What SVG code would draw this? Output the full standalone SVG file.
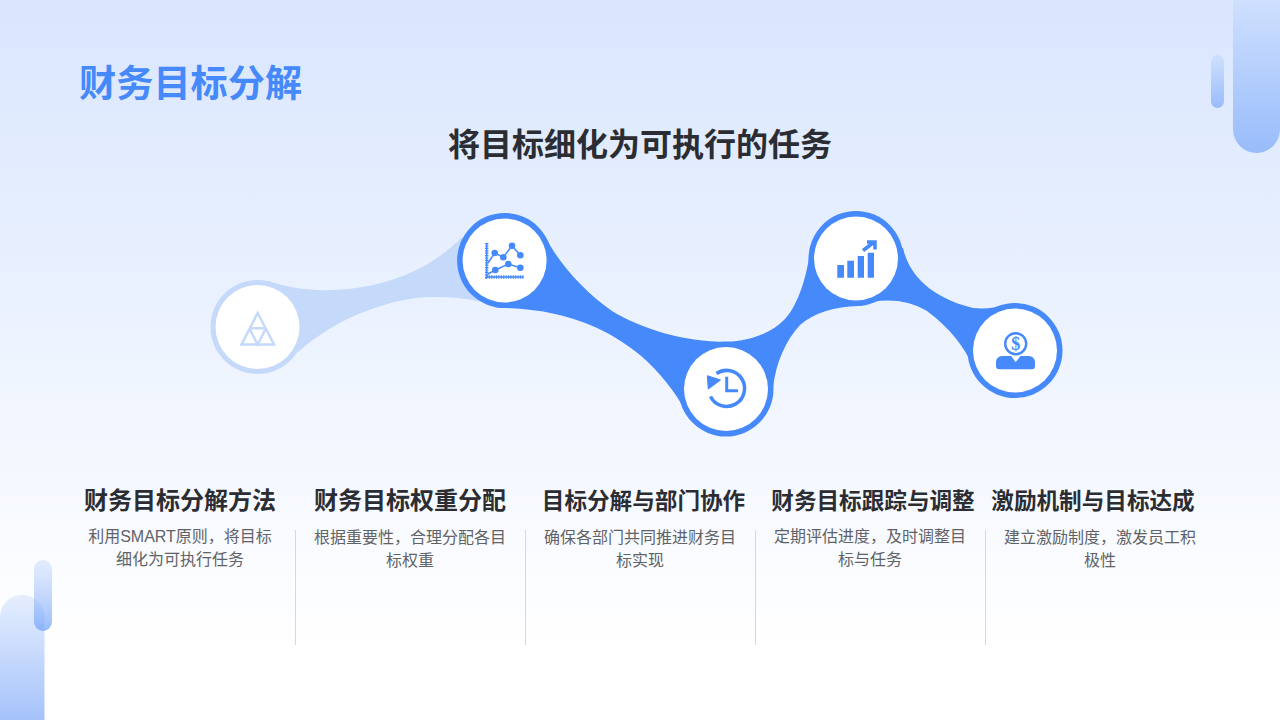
<svg xmlns="http://www.w3.org/2000/svg" width="1280" height="720" viewBox="0 0 1280 720">
<style>
text{font-family:"Liberation Sans","Noto Sans CJK SC",sans-serif}
.h{font-size:24px;font-weight:700;fill:#2b2d33;text-anchor:middle}
.n{font-size:22.600px}
.b{font-size:16px;fill:#5f6368;text-anchor:middle}
.d{stroke:#d5d8de;stroke-width:1}
.w{fill:#fff}
.i{fill:#4589fb}
.is{fill:none;stroke:#4589fb}
</style>
<defs>
<linearGradient id="bg" x1="0" y1="0" x2="0" y2="1"><stop offset="0" stop-color="#d9e6fe"/><stop offset=".9" stop-color="#fff"/></linearGradient>
<linearGradient id="g1" x1="0" y1="0" x2="0" y2="1"><stop offset="0" stop-color="#cfe0fe"/><stop offset="1" stop-color="#98bcfb"/></linearGradient>
<linearGradient id="g2" x1="0" y1="0" x2="0" y2="1"><stop offset="0" stop-color="#e6eefe"/><stop offset="1" stop-color="#a5c3fb"/></linearGradient>
<linearGradient id="g3" x1="0" y1="0" x2="0" y2="1"><stop offset="0" stop-color="#b5cdfc" stop-opacity=".35"/><stop offset="1" stop-color="#6d9ffa" stop-opacity=".7"/></linearGradient>
</defs>
<rect width="1280" height="720" fill="url(#bg)"/>
<g id="decor">
<path d="M1233 0H1280V129A23.500 24 0 0 1 1233 129Z" fill="url(#g1)"/>
<rect x="1211" y="55" width="13" height="53" rx="6.500" fill="url(#g1)"/>
<path d="M0 720V617A22 22 0 0 1 44.500 617V720Z" fill="url(#g2)"/>
<rect x="34" y="560" width="18" height="71" rx="9" fill="url(#g3)"/>
</g>
<text x="79" y="97" font-size="37.200" font-weight="700" fill="#4589fb" id="title">财务目标分解</text>
<text x="640" y="156" font-size="32" font-weight="700" fill="#2b2d33" text-anchor="middle" id="subtitle">将目标细化为可执行的任务</text>
<g id="connectors">
<path fill="#c5d9fb" d="M268 281C290 288 310 291 333 290C385 288 430 270 462 237L482 302C465 298 450 297 433 297C395 297 340 315 298 352Z"/>
<path fill="#4589fb" d="M546 238C560 265 585 292 612 311C640 328 683 342 727 342C750 341 772 333 785 319C800 303 808 270 810 250L903 248C908 270 925 296 973 308C985 309 995 308 1005 305L972 365C965 348 950 328 927 311C905 298 880 298 858 306C835 307 815 312 800 325C786 340 776 362 773 388L685 410C675 392 660 372 640 355C615 335 590 322 555 314C535 309 515 309 495 307Z"/>
</g>
<g id="node1">
<circle cx="257.500" cy="327" r="47" fill="#c5d9fb"/><circle cx="257.500" cy="327" r="42" class="w"/>
<path d="M257.700 313L274 344.500H241.500Z M249.300 328.300H266 M249.300 328.300L257.700 344.500L266 328.300" fill="none" stroke="#c5d9fb" stroke-width="2.500"/>
</g>
<g id="node2">
<circle cx="504.600" cy="260.500" r="47.500" class="i"/><circle cx="504.600" cy="260.500" r="42" class="w"/>
<path d="M486.700 243V277H523.500" class="is" stroke-width="1.500"/>
<path d="M486.700 243V277H523.500" class="is" stroke-width="3.500" stroke-dasharray="1.200 1.200"/>
<path d="M488 263L494.700 253L503.300 257.300L512 245.700L520.300 255.300M488 274L495.300 270L508.300 264L520.300 267.700" class="is" stroke-width="1.500"/>
<circle cx="494.700" cy="253" r="3.300" class="i"/><circle cx="503.300" cy="257.300" r="3.300" class="i"/><circle cx="512" cy="245.700" r="3.300" class="i"/><circle cx="520.300" cy="255.300" r="3.300" class="i"/><circle cx="495.300" cy="270" r="3.300" class="i"/><circle cx="508.300" cy="264" r="3.300" class="i"/><circle cx="520.300" cy="267.700" r="3.300" class="i"/>
</g>
<g id="node3">
<circle cx="726" cy="389" r="47.500" class="i"/><circle cx="726" cy="389" r="42" class="w"/>
<path d="M716.500 373.500A18 18 0 1 1 710.500 396.500" class="is" stroke-width="3.500"/>
<path d="M707.300 375.700L708.300 389L720.500 380Z" class="i" stroke="#4589fb" stroke-width="1"/>
<path d="M726.700 376.700V390.700H738" class="is" stroke-width="3"/>
</g>
<g id="node4">
<circle cx="856" cy="258.500" r="47.500" class="i"/><circle cx="856" cy="258.500" r="42" class="w"/>
<path d="M837.300 265H844V277.700H837.300ZM847.300 260.700H854V277.700H847.300ZM857.700 256H864V277.700H857.700ZM867.700 252.700H874V277.700H867.700Z" class="i"/>
<path d="M863 250.500L873 243M867 242H875V249.500" class="is" stroke-width="3.500"/>
</g>
<g id="node5">
<circle cx="1015" cy="350.500" r="47.500" class="i"/><circle cx="1015" cy="350.500" r="42" class="w"/>
<circle cx="1015.700" cy="343.700" r="10.500" class="is" stroke-width="2.400"/>
<text x="1015.700" y="350" font-size="18" font-weight="700" fill="#4589fb" text-anchor="middle" style="font-family:'Liberation Serif',serif">$</text>
<path d="M1002 356H1011L1015.700 362L1020.500 356H1029A6 6 0 0 1 1035 362V366A3.300 3.300 0 0 1 1031.700 369.300H999.300A3.300 3.300 0 0 1 996 366V362A6 6 0 0 1 1002 356Z" class="i"/>
</g>
<g id="col1"><text class="h" x="180" y="509">财务目标分解方法</text><text class="b" x="180" y="542">利用SMART原则，将目标</text><text class="b" x="180" y="565">细化为可执行任务</text></g>
<line class="d" x1="295.500" y1="530" x2="295.500" y2="645"/>
<g id="col2"><text class="h" x="410" y="509">财务目标权重分配</text><text class="b" x="410" y="543">根据重要性，合理分配各目</text><text class="b" x="410" y="566">标权重</text></g>
<line class="d" x1="525.500" y1="530" x2="525.500" y2="645"/>
<g id="col3"><text class="h n" x="643.500" y="509">目标分解与部门协作</text><text class="b" x="640" y="543">确保各部门共同推进财务目</text><text class="b" x="640" y="566">标实现</text></g>
<line class="d" x1="755.500" y1="530" x2="755.500" y2="645"/>
<g id="col4"><text class="h n" x="873" y="509">财务目标跟踪与调整</text><text class="b" x="870" y="542">定期评估进度，及时调整目</text><text class="b" x="870" y="565">标与任务</text></g>
<line class="d" x1="985.500" y1="530" x2="985.500" y2="645"/>
<g id="col5"><text class="h n" x="1093" y="509">激励机制与目标达成</text><text class="b" x="1100" y="543">建立激励制度，激发员工积</text><text class="b" x="1100" y="566">极性</text></g>
</svg>
